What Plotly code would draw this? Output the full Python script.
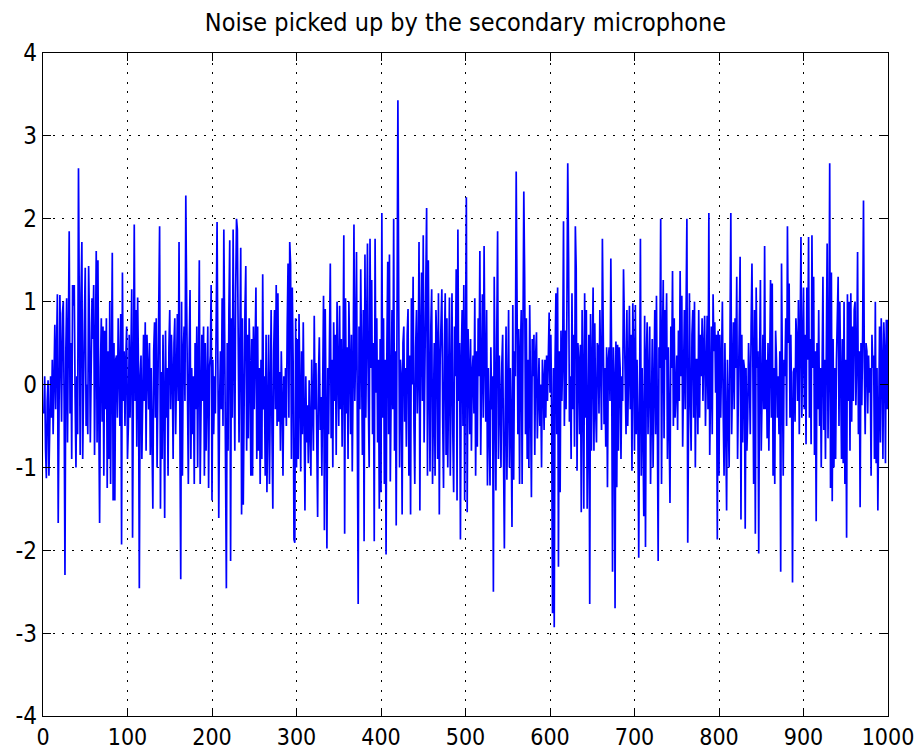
import plotly.graph_objects as go

# Title and tick labels
title_text = "Noise picked up by the secondary microphone"
x_ticks = [0, 100, 200, 300, 400, 500, 600, 700, 800, 900, 1000]
y_ticks = [-4, -3, -2, -1, 0, 1, 2, 3, 4]

# Recorded noise samples, 100 per segment
seg_000 = [
    -0.35, 0.1, -0.78, -1.13, -0.2, 0.05, -1.1, -0.5, 0.1, -0.4, 0.3, -0.6, 0.5, 0.72, -0.3, 0.6, 1.09, -1.67, 0.6, 1.08,
    0.3, -0.45, 0.85, 1.0, -0.2, -2.3, 0.4, 1.04, -0.7, 0.9, 1.85, -0.35, 0.5, -0.9, 1.2, 0.95, 1.2, -0.15, -1.0, 0.1,
    -0.6, 2.61, 0.45, -0.85, 1.1, 1.72, -0.9, 0.3, 0.8, 1.41, -0.5, 0.0, -0.6, 1.43, 0.75, -0.7, 0.3, 1.04, 0.55, 1.2,
    -0.85, 0.9, 1.61, -0.7, 1.5, -0.3, -1.67, 0.2, 0.8, -0.45, 0.7, -1.1, 0.65, -0.3, 0.8, -1.25, 0.4, -0.9, 1.0, -1.2,
    1.26, 1.59, -1.4, 0.5, -1.4, 0.3, 0.35, -0.4, 0.8, 0.2, -0.5, 0.85, -1.93, 1.35, -0.2, 0.4, -0.5, 0.3, 0.7, -0.9,
]
seg_100 = [
    -0.5, 0.6, -0.4, 0.3, 1.15, -1.85, 0.5, 1.93, -0.2, 0.9, -0.75, 1.05, 0.2, -2.46, 0.1, 0.35, -0.9, 0.05, 0.6, -0.2,
    0.75, -0.8, 0.6, 0.2, -0.3, 0.5, -0.85, 0.2, -0.6, -1.5, 0.4, 0.75, -0.4, 0.8, -1.0, 0.3, 0.9, 1.91, -1.5, 0.15,
    -0.9, 0.6, -0.2, -1.61, 0.65, -0.4, 0.2, -1.1, 0.45, 0.9, -0.3, 0.6, 0.15, -0.9, 0.5, 0.8, -0.6, 0.3, 0.85, -0.2,
    1.72, -0.5, -2.35, 1.0, -1.1, 0.4, 0.7, -0.2, 2.28, 1.0, -0.6, -1.2, 0.4, 1.14, -0.9, 0.2, -0.6, 0.1, -1.2, 0.5,
    -0.3, 0.7, -1.0, 0.2, 1.5, -1.2, 0.3, 0.6, -0.2, 0.7, -1.1, 0.5, -0.8, 0.3, 0.7, -1.25, 0.2, 0.35, 1.2, -1.4,
]
seg_200 = [
    0.3, -0.6, 0.1, -0.35, 0.5, 1.96, 0.2, -1.61, -0.2, 0.4, -0.3, 1.04, -0.5, 1.87, 0.6, -0.9, -2.46, 0.5, -0.8, 0.9,
    1.74, -2.13, 0.8, -0.4, 1.87, 0.3, -0.8, 1.1, 2.0, 1.87, 0.2, -0.7, 0.5, 1.65, -1.57, 0.8, -1.45, 0.35, 0.9, 1.43,
    -0.8, 0.6, -0.65, 0.8, 0.2, -1.1, 0.55, -1.1, 0.7, -0.3, 0.6, 1.17, -0.9, 0.7, -0.8, 0.2, -1.2, 0.3, -0.9, 1.33,
    -0.3, 0.1, -1.1, 0.6, -1.3, 0.3, 0.6, -1.2, 0.2, 0.9, -0.6, -1.5, 0.4, 0.9, -0.3, 1.2, -0.5, 1.1, -0.45, 0.15,
    -0.8, 0.4, -0.2, -1.1, 0.1, -0.4, 0.2, -0.5, 0.7, 1.46, -0.4, 1.72, 1.45, -0.9, 1.17, 0.3, -1.87, -1.91, 0.8, -1.0,
]
seg_300 = [
    0.55, -0.9, 0.85, -0.35, -1.05, 0.4, -0.6, 0.75, -0.2, -1.52, 0.1, -0.7, -0.25, -0.95, 0.05, -0.5, -1.1, 0.3, -0.4, -0.8,
    0.83, -0.3, 0.26, -0.9, -1.6, 0.1, 0.57, -0.55, -0.15, -1.1, 0.4, 1.07, -1.76, 0.91, -0.4, -1.98, 0.2, -0.6, 0.5, 1.46,
    -0.65, 0.3, -1.0, 0.75, -0.2, 0.6, -0.85, 1.0, 0.15, -0.5, 0.95, -0.3, 0.55, -0.75, 0.2, 1.8, -1.8, 1.04, -0.35, 0.45,
    -0.9, 1.0, 0.3, -0.6, 0.6, -1.05, 0.1, 1.93, -0.2, 0.4, 1.6, -0.5, -2.65, 0.7, -0.3, 1.39, 0.25, -0.85, 0.9, -1.89,
    1.57, -0.4, 0.6, 1.7, -0.15, -1.0, 1.76, 0.2, 1.26, -0.6, 0.5, -1.89, 1.76, -0.1, 0.8, -0.7, 0.3, -1.5, 0.55, -1.3,
]
seg_400 = [
    2.07, -0.4, 0.8, -1.2, 0.3, -2.05, 0.5, 1.48, -0.6, 1.57, -1.17, 0.2, 0.9, -0.3, 2.0, -0.8, 0.4, -1.7, 0.95, 3.43,
    0.96, -1.0, 0.3, 0.1, -1.57, 0.5, 0.7, -0.45, 0.2, -0.75, 0.6, 0.91, -1.1, 0.35, -1.57, 1.04, 0.0, 1.3, -0.5, -1.2,
    0.45, 0.9, -0.35, 0.2, 1.72, -1.52, 0.6, 1.35, -0.2, 1.8, -0.7, 0.25, 0.65, 2.13, -1.1, 1.5, 0.1, -1.05, 0.7, 1.15,
    -1.2, -0.3, 0.5, -1.1, 0.9, 0.55, -0.9, 1.1, -1.57, 0.3, 0.65, 1.15, -0.4, -1.25, 0.45, 1.1, -0.85, 0.8, -1.0, 0.2,
    1.05, -1.1, 0.4, 1.1, -0.6, -1.3, 0.7, 0.1, 1.39, -1.4, 1.87, -0.2, 0.5, -1.87, 0.3, 0.9, -0.5, 1.2, -1.4, 0.6,
]
seg_500 = [
    2.26, -1.54, 0.67, 0.2, -0.6, 0.55, -0.8, 0.15, 0.35, -0.35, 1.04, -1.1, 0.4, -0.75, 0.8, 0.1, 1.61, -0.85, 0.3, 1.09,
    -0.4, 1.67, 0.3, -0.45, 0.9, -1.22, 0.2, -0.7, -1.22, 0.45, -0.3, 0.1, -2.5, 1.3, -0.5, -1.28, 0.6, 1.85, -0.9, 0.35,
    -0.2, -1.0, 0.25, 0.6, -0.85, -1.98, -0.3, 0.7, -1.15, 0.5, 0.9, -1.0, 0.2, -0.5, -1.72, 0.96, -1.15, 0.4, 0.1, 2.57,
    0.95, -0.6, 0.67, -1.2, 0.4, 0.9, -1.2, 0.15, 2.33, 1.3, -0.6, 0.8, -0.9, 0.3, -1.0, 0.96, -0.3, -1.36, 0.55, 0.1,
    0.6, -0.85, 0.35, 0.63, -0.65, 0.2, 0.32, -0.5, 0.0, -1.0, 0.3, 0.08, -0.55, 0.3, -0.4, 0.35, -0.2, 0.33, 0.87, -0.1,
]
seg_600 = [
    0.6, -0.4, -2.76, 0.2, -2.93, 0.3, 1.1, -0.6, 1.17, -2.2, 0.4, -1.3, 0.65, -0.2, 0.3, 1.97, -0.5, 0.65, -0.3, 0.9,
    2.67, 1.52, -0.45, 0.1, -0.9, 1.1, -0.3, 0.6, -0.75, 1.91, 1.4, -1.04, 0.5, 0.3, -0.6, 0.48, -1.54, 0.9, 0.13, -1.5,
    1.1, -0.4, 0.9, -1.5, 0.2, 0.6, -2.65, 0.85, -0.8, 0.3, 1.17, -0.8, 0.74, -0.3, -0.7, 0.5, 0.45, -0.35, 0.9, 0.2,
    -0.55, 1.76, 0.6, -0.48, 0.2, -0.75, 0.45, -1.24, 0.3, 0.45, -0.2, 1.52, 0.2, -2.26, 0.45, 0.1, -2.7, 0.52, -1.24, 0.48,
    -0.8, 0.45, 0.2, -0.9, 0.1, -0.2, 1.39, 0.8, 0.35, -0.6, 0.9, -0.5, 0.15, 0.95, -0.3, 0.6, -1.04, 0.98, 0.4, -0.8,
]
seg_700 = [
    0.96, -0.6, 0.3, -0.4, -2.09, 0.8, 1.76, -1.1, 0.2, -0.55, -1.59, 0.83, -1.96, 0.35, 0.75, -0.6, 0.15, 0.7, -1.2, -0.1,
    0.55, -1.0, 0.2, 0.9, -0.6, 1.07, -0.3, -2.13, 0.45, 0.2, 2.0, -1.2, 0.45, 1.26, -0.65, 0.9, 0.3, 1.1, -0.9, 0.45,
    -0.5, -1.43, 0.7, 0.2, 1.37, -0.5, 0.8, -0.4, -0.1, 0.35, -0.55, 0.65, -0.2, 1.37, 0.1, 1.07, -0.75, 0.3, 0.9, -0.3,
    0.5, 2.0, -1.91, 0.35, 1.1, -0.2, -0.8, 0.6, 0.9, -0.4, 1.0, -1.0, 0.3, 0.3, -0.6, 0.9, -0.4, 0.6, 0.1, 0.8,
    -0.2, 0.45, 0.83, -0.5, 0.2, 0.83, -0.3, 2.07, -0.85, 0.4, 0.7, -0.6, 1.09, 0.4, 0.75, -0.1, 0.6, -1.87, 0.65, -1.1,
]
seg_800 = [
    0.6, -0.4, 0.2, 1.0, -0.35, -1.1, 0.5, -0.9, -1.52, 0.3, -0.2, -1.0, 0.55, 2.07, -0.6, 0.1, 0.75, -0.3, 0.8, 0.2,
    1.3, -0.9, 0.1, 0.5, 1.54, -1.63, 0.6, -0.7, 0.3, 0.2, -1.74, 0.2, -0.8, -0.4, 0.5, 0.1, -0.6, 0.7, 1.46, 0.35,
    -1.2, 0.9, -1.8, 1.17, 0.2, 0.4, -2.04, 0.25, 1.26, -0.8, 0.0, 0.6, -0.3, 1.67, -0.3, 0.3, -0.65, 0.5, -0.8, 0.6,
    1.26, -0.4, 1.22, -1.1, 0.2, -1.2, 0.65, 0.3, -0.4, 0.1, -0.6, 0.4, -2.26, 1.46, -0.5, -1.1, 0.3, 0.1, 0.8, -0.5,
    1.91, 0.5, 1.22, -0.4, 0.6, -0.3, -2.39, 0.15, 0.2, -0.45, 0.8, 0.55, -0.2, 1.02, -0.6, 0.3, 1.78, -0.4, 0.2, 1.17,
]
seg_900 = [
    -0.3, 0.6, -0.72, 1.17, 0.3, 1.78, -0.4, 0.55, -0.72, 1.8, 0.2, 1.3, -0.85, 0.4, -1.65, 0.5, -0.3, 0.9, -0.5, 0.2,
    -1.0, 0.6, 1.3, -0.55, 0.3, -0.9, 0.6, 1.7, -0.65, 0.2, 2.67, -1.25, 1.35, -1.41, 0.55, -1.0, 0.2, -0.9, 0.3, 1.1,
    1.3, -0.5, 1.0, 0.1, -0.9, 0.55, -0.95, 1.0, -1.2, 0.3, -1.85, 1.09, -0.2, 1.0, -0.8, 1.1, -0.45, 0.7, -0.2, 0.9,
    1.0, -0.25, 0.3, 1.6, -0.6, 0.4, -1.48, 0.5, -0.25, 0.6, 2.22, 0.2, -0.6, 0.5, 0.4, -0.35, 0.35, -0.1, 0.2, -1.1,
    0.6, 0.2, 0.35, -0.9, 1.0, -0.95, 0.2, -1.52, 0.2, 0.7, -0.7, 0.8, 0.3, -0.9, 0.75, 0.4, -0.95, 0.78, -0.3, 0.78,
]

noise = seg_000 + seg_100 + seg_200 + seg_300 + seg_400 + seg_500 + seg_600 + seg_700 + seg_800 + seg_900
sample_index = list(range(1, len(noise) + 1))

FONT = "DejaVu Sans Condensed, Liberation Sans Narrow, Arial Narrow, sans-serif"

fig = go.Figure(
    go.Scatter(
        x=sample_index,
        y=noise,
        mode="lines",
        line=dict(color="#0000ff", width=1.7),
        hoverinfo="skip",
    )
)

axis_common = dict(
    showline=True,
    linecolor="black",
    linewidth=1.3,
    mirror="ticks",
    ticks="inside",
    ticklen=8,
    tickwidth=1.3,
    tickcolor="black",
    showgrid=True,
    gridcolor="black",
    gridwidth=1.2,
    griddash="2px,7.5px",
    zeroline=False,
    automargin=False,
)

fig.update_layout(
    width=917,
    height=753,
    margin=dict(l=43, r=29, t=53, b=37),
    paper_bgcolor="white",
    plot_bgcolor="white",
    showlegend=False,
    title=dict(
        text=title_text,
        xref="paper",
        x=0.5,
        xanchor="center",
        yref="container",
        y=1 - 22 / 753,
        yanchor="middle",
        font=dict(family=FONT, size=25, color="black"),
    ),
    xaxis=dict(
        range=[0, 1000],
        tickvals=x_ticks,
        ticktext=[str(v) for v in x_ticks],
        ticklabelstandoff=0,
        tickfont=dict(family=FONT, size=23, color="black"),
        **axis_common,
    ),
    yaxis=dict(
        range=[-4, 4],
        tickvals=y_ticks,
        ticktext=[str(v) for v in y_ticks],
        tickfont=dict(family=FONT, size=24, color="black"),
        **axis_common,
    ),
)

fig.write_html("out.html")
